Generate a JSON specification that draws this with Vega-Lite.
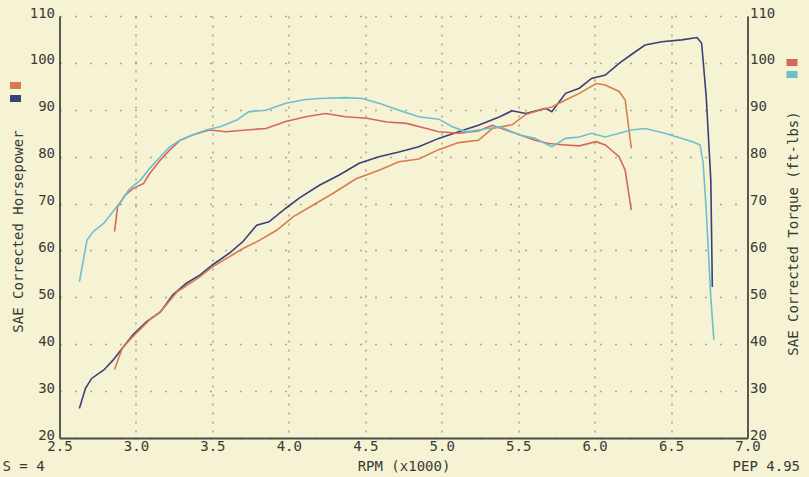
{
  "$schema": "https://vega.github.io/schema/vega-lite/v6.json",
  "width": 688,
  "height": 422,
  "autosize": {"type": "none"},
  "padding": {"left": 59.5, "top": 16, "right": 61.5, "bottom": 39},
  "background": "#f6f3d4",
  "title": {
    "text": "S = 4",
    "orient": "bottom",
    "anchor": "start",
    "frame": "group",
    "dx": -57,
    "offset": -13,
    "font": "DejaVu Sans Mono",
    "fontSize": 14,
    "fontWeight": "normal",
    "color": "#3a3a36"
  },
  "config": {
    "view": {"stroke": null},
    "axis": {
      "labelFont": "DejaVu Sans Mono",
      "labelFontSize": 14,
      "labelColor": "#3a3a36",
      "titleFont": "DejaVu Sans Mono",
      "titleFontSize": 14,
      "titleFontWeight": "normal",
      "titleColor": "#3a3a36",
      "domainColor": "#4a4a44",
      "domainWidth": 1.8,
      "ticks": false
    }
  },
  "datasets": {
    "hp": [
      {"rpm": 2.63, "hp": 26.3, "run": "Run 1"},
      {"rpm": 2.67, "hp": 30.6, "run": "Run 1"},
      {"rpm": 2.71, "hp": 32.7, "run": "Run 1"},
      {"rpm": 2.79, "hp": 34.5, "run": "Run 1"},
      {"rpm": 2.85, "hp": 36.6, "run": "Run 1"},
      {"rpm": 2.92, "hp": 39.5, "run": "Run 1"},
      {"rpm": 2.98, "hp": 42.0, "run": "Run 1"},
      {"rpm": 3.07, "hp": 44.8, "run": "Run 1"},
      {"rpm": 3.16, "hp": 46.9, "run": "Run 1"},
      {"rpm": 3.24, "hp": 50.5, "run": "Run 1"},
      {"rpm": 3.33, "hp": 53.0, "run": "Run 1"},
      {"rpm": 3.42, "hp": 54.8, "run": "Run 1"},
      {"rpm": 3.50, "hp": 56.9, "run": "Run 1"},
      {"rpm": 3.61, "hp": 59.4, "run": "Run 1"},
      {"rpm": 3.70, "hp": 61.9, "run": "Run 1"},
      {"rpm": 3.79, "hp": 65.4, "run": "Run 1"},
      {"rpm": 3.87, "hp": 66.1, "run": "Run 1"},
      {"rpm": 3.98, "hp": 69.0, "run": "Run 1"},
      {"rpm": 4.07, "hp": 71.2, "run": "Run 1"},
      {"rpm": 4.20, "hp": 73.9, "run": "Run 1"},
      {"rpm": 4.33, "hp": 76.1, "run": "Run 1"},
      {"rpm": 4.46, "hp": 78.6, "run": "Run 1"},
      {"rpm": 4.59, "hp": 80.0, "run": "Run 1"},
      {"rpm": 4.72, "hp": 81.0, "run": "Run 1"},
      {"rpm": 4.85, "hp": 82.1, "run": "Run 1"},
      {"rpm": 4.98, "hp": 83.9, "run": "Run 1"},
      {"rpm": 5.11, "hp": 85.3, "run": "Run 1"},
      {"rpm": 5.24, "hp": 86.7, "run": "Run 1"},
      {"rpm": 5.38, "hp": 88.5, "run": "Run 1"},
      {"rpm": 5.46, "hp": 89.8, "run": "Run 1"},
      {"rpm": 5.55, "hp": 89.2, "run": "Run 1"},
      {"rpm": 5.68, "hp": 90.3, "run": "Run 1"},
      {"rpm": 5.72, "hp": 89.6, "run": "Run 1"},
      {"rpm": 5.81, "hp": 93.5, "run": "Run 1"},
      {"rpm": 5.90, "hp": 94.6, "run": "Run 1"},
      {"rpm": 5.98, "hp": 96.7, "run": "Run 1"},
      {"rpm": 6.07, "hp": 97.4, "run": "Run 1"},
      {"rpm": 6.16, "hp": 99.9, "run": "Run 1"},
      {"rpm": 6.25, "hp": 102.0, "run": "Run 1"},
      {"rpm": 6.33, "hp": 103.8, "run": "Run 1"},
      {"rpm": 6.44, "hp": 104.5, "run": "Run 1"},
      {"rpm": 6.57, "hp": 104.9, "run": "Run 1"},
      {"rpm": 6.67, "hp": 105.4, "run": "Run 1"},
      {"rpm": 6.70, "hp": 104.2, "run": "Run 1"},
      {"rpm": 6.73, "hp": 92.8, "run": "Run 1"},
      {"rpm": 6.76, "hp": 75.0, "run": "Run 1"},
      {"rpm": 6.77, "hp": 52.2, "run": "Run 1"},
      {"rpm": 2.86, "hp": 34.6, "run": "Run 0"},
      {"rpm": 2.91, "hp": 39.1, "run": "Run 0"},
      {"rpm": 2.97, "hp": 41.3, "run": "Run 0"},
      {"rpm": 3.09, "hp": 45.2, "run": "Run 0"},
      {"rpm": 3.16, "hp": 46.9, "run": "Run 0"},
      {"rpm": 3.27, "hp": 51.2, "run": "Run 0"},
      {"rpm": 3.42, "hp": 54.4, "run": "Run 0"},
      {"rpm": 3.50, "hp": 56.5, "run": "Run 0"},
      {"rpm": 3.70, "hp": 60.4, "run": "Run 0"},
      {"rpm": 3.81, "hp": 62.2, "run": "Run 0"},
      {"rpm": 3.92, "hp": 64.3, "run": "Run 0"},
      {"rpm": 4.03, "hp": 67.2, "run": "Run 0"},
      {"rpm": 4.16, "hp": 69.7, "run": "Run 0"},
      {"rpm": 4.29, "hp": 72.2, "run": "Run 0"},
      {"rpm": 4.44, "hp": 75.3, "run": "Run 0"},
      {"rpm": 4.59, "hp": 77.1, "run": "Run 0"},
      {"rpm": 4.72, "hp": 78.9, "run": "Run 0"},
      {"rpm": 4.85, "hp": 79.5, "run": "Run 0"},
      {"rpm": 4.98, "hp": 81.5, "run": "Run 0"},
      {"rpm": 5.11, "hp": 83.0, "run": "Run 0"},
      {"rpm": 5.24, "hp": 83.5, "run": "Run 0"},
      {"rpm": 5.33, "hp": 86.0, "run": "Run 0"},
      {"rpm": 5.46, "hp": 86.8, "run": "Run 0"},
      {"rpm": 5.55, "hp": 89.0, "run": "Run 0"},
      {"rpm": 5.64, "hp": 89.9, "run": "Run 0"},
      {"rpm": 5.72, "hp": 90.6, "run": "Run 0"},
      {"rpm": 5.81, "hp": 92.1, "run": "Run 0"},
      {"rpm": 5.90, "hp": 93.5, "run": "Run 0"},
      {"rpm": 6.01, "hp": 95.6, "run": "Run 0"},
      {"rpm": 6.07, "hp": 95.3, "run": "Run 0"},
      {"rpm": 6.16, "hp": 93.9, "run": "Run 0"},
      {"rpm": 6.20, "hp": 92.1, "run": "Run 0"},
      {"rpm": 6.24, "hp": 81.8, "run": "Run 0"}
    ],
    "tq": [
      {"rpm": 2.86, "tq": 64.0, "run": "Run 0"},
      {"rpm": 2.88, "tq": 69.3, "run": "Run 0"},
      {"rpm": 2.93, "tq": 71.8, "run": "Run 0"},
      {"rpm": 2.98, "tq": 73.2, "run": "Run 0"},
      {"rpm": 3.05, "tq": 74.3, "run": "Run 0"},
      {"rpm": 3.09, "tq": 76.4, "run": "Run 0"},
      {"rpm": 3.16, "tq": 79.3, "run": "Run 0"},
      {"rpm": 3.22, "tq": 81.4, "run": "Run 0"},
      {"rpm": 3.29, "tq": 83.5, "run": "Run 0"},
      {"rpm": 3.37, "tq": 84.6, "run": "Run 0"},
      {"rpm": 3.48, "tq": 85.7, "run": "Run 0"},
      {"rpm": 3.59, "tq": 85.3, "run": "Run 0"},
      {"rpm": 3.72, "tq": 85.7, "run": "Run 0"},
      {"rpm": 3.85, "tq": 86.0, "run": "Run 0"},
      {"rpm": 3.98, "tq": 87.5, "run": "Run 0"},
      {"rpm": 4.11, "tq": 88.5, "run": "Run 0"},
      {"rpm": 4.24, "tq": 89.2, "run": "Run 0"},
      {"rpm": 4.37, "tq": 88.5, "run": "Run 0"},
      {"rpm": 4.51, "tq": 88.2, "run": "Run 0"},
      {"rpm": 4.64, "tq": 87.4, "run": "Run 0"},
      {"rpm": 4.77, "tq": 87.1, "run": "Run 0"},
      {"rpm": 4.90, "tq": 86.0, "run": "Run 0"},
      {"rpm": 4.98, "tq": 85.3, "run": "Run 0"},
      {"rpm": 5.11, "tq": 85.0, "run": "Run 0"},
      {"rpm": 5.24, "tq": 85.5, "run": "Run 0"},
      {"rpm": 5.33, "tq": 86.7, "run": "Run 0"},
      {"rpm": 5.48, "tq": 85.0, "run": "Run 0"},
      {"rpm": 5.61, "tq": 83.5, "run": "Run 0"},
      {"rpm": 5.70, "tq": 82.8, "run": "Run 0"},
      {"rpm": 5.81, "tq": 82.5, "run": "Run 0"},
      {"rpm": 5.90, "tq": 82.3, "run": "Run 0"},
      {"rpm": 6.01, "tq": 83.2, "run": "Run 0"},
      {"rpm": 6.07, "tq": 82.5, "run": "Run 0"},
      {"rpm": 6.16, "tq": 80.0, "run": "Run 0"},
      {"rpm": 6.20, "tq": 77.1, "run": "Run 0"},
      {"rpm": 6.24, "tq": 68.6, "run": "Run 0"},
      {"rpm": 2.63, "tq": 53.3, "run": "Run 1"},
      {"rpm": 2.68, "tq": 62.2, "run": "Run 1"},
      {"rpm": 2.72, "tq": 64.0, "run": "Run 1"},
      {"rpm": 2.79, "tq": 65.8, "run": "Run 1"},
      {"rpm": 2.85, "tq": 68.3, "run": "Run 1"},
      {"rpm": 2.90, "tq": 70.4, "run": "Run 1"},
      {"rpm": 2.96, "tq": 73.2, "run": "Run 1"},
      {"rpm": 3.03, "tq": 75.0, "run": "Run 1"},
      {"rpm": 3.09, "tq": 77.5, "run": "Run 1"},
      {"rpm": 3.16, "tq": 80.0, "run": "Run 1"},
      {"rpm": 3.22, "tq": 82.1, "run": "Run 1"},
      {"rpm": 3.29, "tq": 83.5, "run": "Run 1"},
      {"rpm": 3.37, "tq": 84.6, "run": "Run 1"},
      {"rpm": 3.46, "tq": 85.7, "run": "Run 1"},
      {"rpm": 3.55, "tq": 86.4, "run": "Run 1"},
      {"rpm": 3.66, "tq": 87.8, "run": "Run 1"},
      {"rpm": 3.74, "tq": 89.6, "run": "Run 1"},
      {"rpm": 3.85, "tq": 89.9, "run": "Run 1"},
      {"rpm": 3.98, "tq": 91.4, "run": "Run 1"},
      {"rpm": 4.11, "tq": 92.2, "run": "Run 1"},
      {"rpm": 4.20, "tq": 92.4, "run": "Run 1"},
      {"rpm": 4.37, "tq": 92.6, "run": "Run 1"},
      {"rpm": 4.48, "tq": 92.4, "run": "Run 1"},
      {"rpm": 4.59, "tq": 91.4, "run": "Run 1"},
      {"rpm": 4.72, "tq": 89.9, "run": "Run 1"},
      {"rpm": 4.85, "tq": 88.5, "run": "Run 1"},
      {"rpm": 4.98, "tq": 88.0, "run": "Run 1"},
      {"rpm": 5.07, "tq": 86.4, "run": "Run 1"},
      {"rpm": 5.16, "tq": 85.3, "run": "Run 1"},
      {"rpm": 5.24, "tq": 85.7, "run": "Run 1"},
      {"rpm": 5.38, "tq": 86.4, "run": "Run 1"},
      {"rpm": 5.51, "tq": 84.6, "run": "Run 1"},
      {"rpm": 5.61, "tq": 83.9, "run": "Run 1"},
      {"rpm": 5.72, "tq": 82.1, "run": "Run 1"},
      {"rpm": 5.81, "tq": 83.9, "run": "Run 1"},
      {"rpm": 5.90, "tq": 84.2, "run": "Run 1"},
      {"rpm": 5.98, "tq": 85.0, "run": "Run 1"},
      {"rpm": 6.07, "tq": 84.2, "run": "Run 1"},
      {"rpm": 6.24, "tq": 85.7, "run": "Run 1"},
      {"rpm": 6.33, "tq": 86.0, "run": "Run 1"},
      {"rpm": 6.46, "tq": 85.0, "run": "Run 1"},
      {"rpm": 6.64, "tq": 83.2, "run": "Run 1"},
      {"rpm": 6.69, "tq": 82.5, "run": "Run 1"},
      {"rpm": 6.71, "tq": 78.6, "run": "Run 1"},
      {"rpm": 6.73, "tq": 68.6, "run": "Run 1"},
      {"rpm": 6.76, "tq": 50.0, "run": "Run 1"},
      {"rpm": 6.78, "tq": 40.9, "run": "Run 1"}
    ]
  },
  "layer": [
    {
      "data": {"name": "hp"},
      "mark": {"type": "line", "strokeWidth": 1.6},
      "encoding": {
        "x": {
          "field": "rpm", "type": "quantitative",
          "scale": {"domain": [2.5, 7.0], "nice": false, "zero": false},
          "axis": {
            "values": [2.5, 3.0, 3.5, 4.0, 4.5, 5.0, 5.5, 6.0, 6.5, 7.0],
            "format": ".1f",
            "labelPadding": 1,
            "labelFlush": false,
            "grid": true,
            "gridDash": [2, 7],
            "gridColor": "#8a8a78",
            "gridWidth": 1.6,
            "gridOpacity": 0.7,
            "title": "RPM (x1000)",
            "titleBaseline": "middle",
            "titleY": 28
          }
        },
        "y": {
          "field": "hp", "type": "quantitative",
          "scale": {"domain": [20, 110], "nice": false, "zero": false},
          "axis": {
            "values": [20, 30, 40, 50, 60, 70, 80, 90, 100, 110],
            "labelPadding": 5,
            "labelOffset": -3,
            "labelFlush": false,
            "grid": true,
            "gridDash": [2, 13],
            "gridColor": "#8a8a78",
            "gridWidth": 1.6,
            "gridOpacity": 0.7,
            "title": "SAE Corrected Horsepower",
            "titleAngle": -90,
            "titleAlign": "center",
            "titleBaseline": "middle",
            "titleX": -41,
            "titleY": 215
          }
        },
        "color": {
          "field": "run", "type": "nominal",
          "scale": {"domain": ["Run 0", "Run 1"], "range": ["#d87c4e", "#3c3f78"]},
          "legend": {
            "orient": "none",
            "legendX": -53,
            "legendY": 64,
            "title": null,
            "symbolType": "M-1,0H1",
            "symbolSize": 121,
            "symbolStrokeWidth": 7,
            "symbolOpacity": 1,
            "labelOpacity": 0,
            "labelFontSize": 2,
            "clipHeight": 11,
            "rowPadding": 2,
            "padding": 0
          }
        }
      }
    },
    {
      "data": {"name": "tq"},
      "mark": {"type": "line", "strokeWidth": 1.6},
      "encoding": {
        "x": {
          "field": "rpm", "type": "quantitative",
          "axis": {
            "orient": "top",
            "domain": false,
            "labels": false,
            "grid": false,
            "title": "PEP 4.95",
            "titleAlign": "right",
            "titleBaseline": "middle",
            "titleX": 740,
            "titleY": 450,
            "titleAngle": 0
          }
        },
        "y": {
          "field": "tq", "type": "quantitative",
          "scale": {"domain": [20, 110], "nice": false, "zero": false},
          "axis": {
            "orient": "right",
            "values": [20, 30, 40, 50, 60, 70, 80, 90, 100, 110],
            "labelPadding": 2,
            "labelOffset": -3,
            "labelFlush": false,
            "grid": false,
            "title": "SAE Corrected Torque (ft-lbs)",
            "titleAngle": -90,
            "titleAlign": "center",
            "titleBaseline": "middle",
            "titleX": 46,
            "titleY": 217
          }
        },
        "color": {
          "field": "run", "type": "nominal",
          "scale": {"domain": ["Run 0", "Run 1"], "range": ["#d4675a", "#6cc0cc"]},
          "legend": {
            "orient": "none",
            "legendX": 723.5,
            "legendY": 41,
            "title": null,
            "symbolType": "M-1,0H1",
            "symbolSize": 121,
            "symbolStrokeWidth": 7,
            "symbolOpacity": 1,
            "labelOpacity": 0,
            "labelFontSize": 2,
            "clipHeight": 11,
            "rowPadding": 1,
            "padding": 0
          }
        }
      }
    }
  ],
  "resolve": {
    "scale": {"y": "independent", "color": "independent"},
    "axis": {"x": "independent"}
  }
}
